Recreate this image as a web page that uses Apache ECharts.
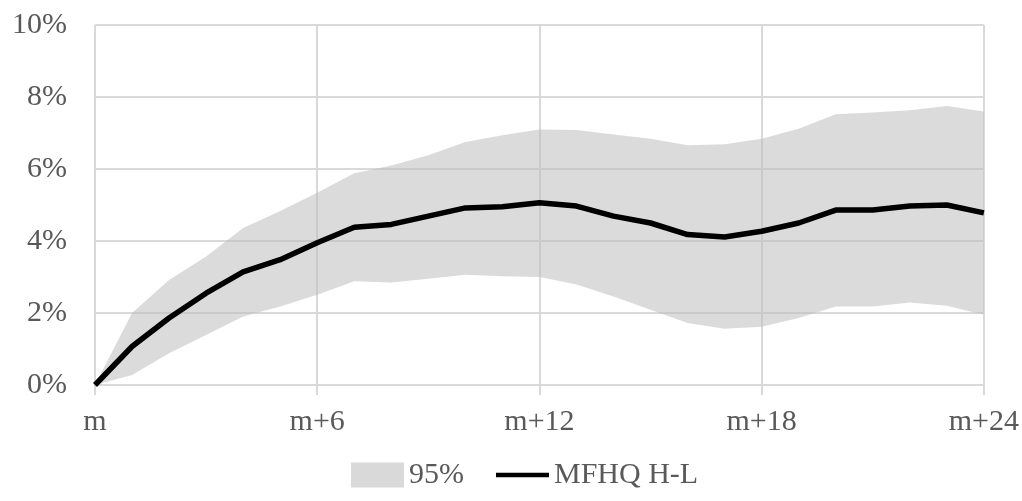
<!DOCTYPE html>
<html>
<head>
<meta charset="utf-8">
<script src="https://cdn.jsdelivr.net/npm/echarts@6/dist/echarts.min.js"></script>
<style>
  html, body { margin: 0; padding: 0; background: #fff; }
  #chart { width: 1022px; height: 501px; }
</style>
</head>
<body>
<div id="chart"></div>
<script>
// months after the event
const months = ['m', 'm+1', 'm+2', 'm+3', 'm+4', 'm+5', 'm+6', 'm+7', 'm+8', 'm+9', 'm+10', 'm+11', 'm+12',
  'm+13', 'm+14', 'm+15', 'm+16', 'm+17', 'm+18', 'm+19', 'm+20', 'm+21', 'm+22', 'm+23', 'm+24']
// MFHQ H-L, in %
const hl = [0, 1.07, 1.86, 2.55, 3.14, 3.48, 3.95, 4.38, 4.46, 4.69, 4.92, 4.95, 5.06,
  4.97, 4.69, 4.5, 4.18, 4.11, 4.27, 4.5, 4.86, 4.86, 4.97, 5.0, 4.78]
// 95% band, lower and upper edge, in %
const lower = [0, 0.28, 0.88, 1.39, 1.9, 2.18, 2.51, 2.88, 2.85, 2.95, 3.06, 3.02, 3.0,
  2.79, 2.46, 2.09, 1.72, 1.56, 1.62, 1.86, 2.18, 2.18, 2.29, 2.2, 1.95]
const upper = [0, 2.0, 2.92, 3.57, 4.36, 4.83, 5.34, 5.88, 6.1, 6.38, 6.75, 6.94, 7.1,
  7.08, 6.96, 6.84, 6.66, 6.69, 6.84, 7.12, 7.52, 7.57, 7.63, 7.75, 7.6]

const bandColor = 'rgba(190,190,190,0.55)'
const gridColor = '#d9d9d9'
const font = '"Liberation Serif", "Times New Roman", serif'

const chart = echarts.init(document.getElementById('chart'))
chart.setOption({
  animation: false,
  textStyle: { fontFamily: font },
  grid: { left: 95, right: 37, top: 25, bottom: 116 },
  legend: {
    bottom: 6,
    left: 346,
    itemWidth: 53,
    itemHeight: 25,
    itemGap: 32,
    textStyle: { fontFamily: font, fontSize: 30, color: '#595959' },
    data: [
      { name: '95%', icon: 'rect', itemStyle: { color: '#d9d9d9' } },
      { name: 'MFHQ H-L', icon: 'path://M0,0 L60,0 L60,5 L0,5 Z', itemStyle: { color: '#000' } }
    ]
  },
  xAxis: {
    type: 'category',
    data: months,
    boundaryGap: false,
    axisLine: { lineStyle: { color: gridColor, width: 2 } },
    axisTick: { interval: 5, length: 10, lineStyle: { color: gridColor, width: 2 } },
    axisLabel: { interval: 5, margin: 22, fontSize: 30, color: '#595959', fontFamily: font },
    splitLine: { show: true, interval: 5, lineStyle: { color: gridColor, width: 2 } }
  },
  yAxis: {
    type: 'value',
    min: 0,
    max: 10,
    interval: 2,
    axisLine: { show: false },
    axisTick: { show: false },
    axisLabel: { formatter: '{value}%', margin: 28, fontSize: 30, color: '#595959', fontFamily: font },
    splitLine: { lineStyle: { color: gridColor, width: 2 } }
  },
  series: [
    {
      name: 'lower',
      type: 'line',
      stack: 'band',
      data: lower,
      symbol: 'none',
      lineStyle: { opacity: 0 },
      silent: true
    },
    {
      name: '95%',
      type: 'line',
      stack: 'band',
      data: upper.map((u, i) => +(u - lower[i]).toFixed(2)),
      symbol: 'none',
      lineStyle: { opacity: 0 },
      itemStyle: { color: '#d9d9d9' },
      areaStyle: { color: bandColor, opacity: 1 },
      silent: true
    },
    {
      name: 'MFHQ H-L',
      type: 'line',
      data: hl,
      symbol: 'none',
      z: 5,
      itemStyle: { color: '#000' },
      lineStyle: { color: '#000', width: 5.5 }
    }
  ]
})
</script>
</body>
</html>
